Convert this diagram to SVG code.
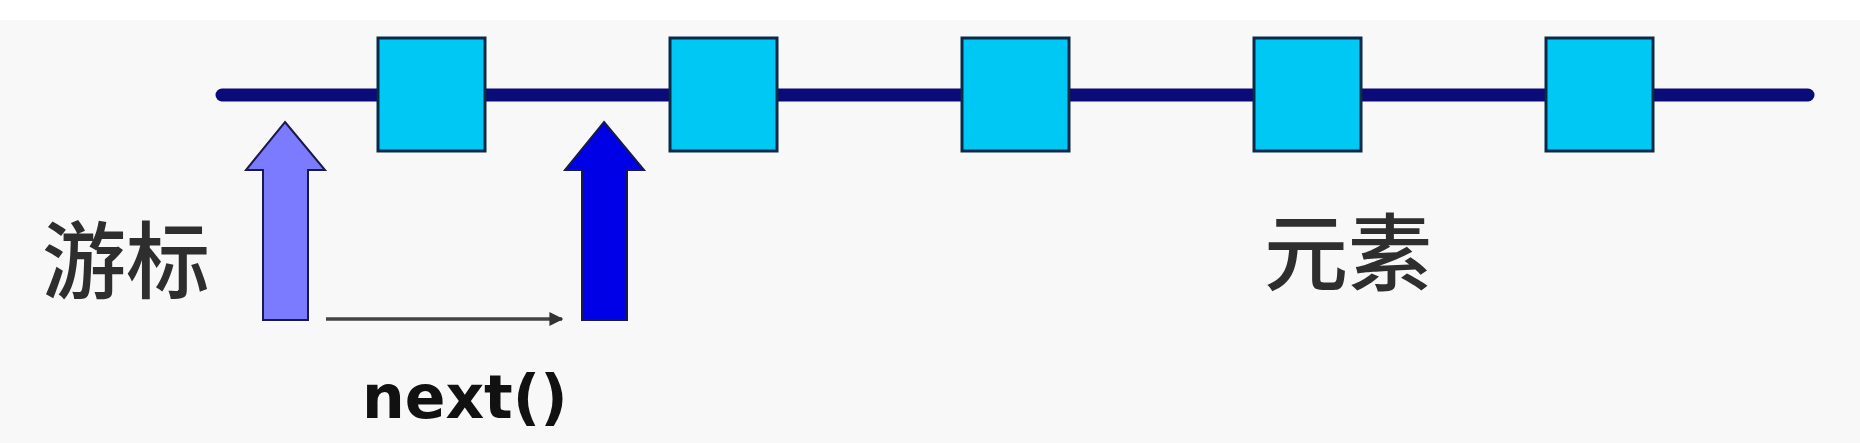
<svg xmlns="http://www.w3.org/2000/svg" width="1860" height="443" viewBox="0 0 1860 443">
  <defs>
    <style>
      .elem { fill: #00c8f5; stroke: #0a2a4a; stroke-width: 3; }
      .cjk { font-family: "Noto Sans CJK SC", "Noto Sans CJK JP", sans-serif; font-size: 84px; font-weight: 500; fill: #2e2e2e; }
      .code { font-family: "DejaVu Sans", "Liberation Sans", sans-serif; font-weight: bold; font-size: 60px; fill: #111111; }
      .ptr { stroke: #1a1a4a; stroke-width: 2; stroke-linejoin: miter; }
    </style>
    <marker id="ah" viewBox="0 0 10 10" refX="9" refY="5" markerWidth="4" markerHeight="4" orient="auto" markerUnits="strokeWidth">
      <path d="M0,0 L10,5 L0,10 z" fill="#333333"/>
    </marker>
  </defs>
  <rect x="0" y="0" width="1860" height="443" fill="#f8f8f8"/>
  <rect x="0" y="0" width="1860" height="20" fill="#ffffff"/>

  <g id="connectors">
    <line id="track" x1="222" y1="95" x2="1808" y2="95" stroke="#0a0a78" stroke-width="13" stroke-linecap="round"/>
    <line id="next-move" x1="326" y1="319" x2="562" y2="319" stroke="#444444" stroke-width="3.5" marker-end="url(#ah)"/>
  </g>

  <g id="element-1"><rect class="elem" x="378" y="38" width="107" height="113"/></g>
  <g id="element-2"><rect class="elem" x="670" y="38" width="107" height="113"/></g>
  <g id="element-3"><rect class="elem" x="962" y="38" width="107" height="113"/></g>
  <g id="element-4"><rect class="elem" x="1254" y="38" width="107" height="113"/></g>
  <g id="element-5"><rect class="elem" x="1546" y="38" width="107" height="113"/></g>

  <g id="cursor-old">
    <path class="ptr" fill="#7b7bff" d="M285,122 L325,170 L308,170 L308,320 L263,320 L263,170 L246,170 Z"/>
  </g>
  <g id="cursor-new">
    <path class="ptr" fill="#0000e6" d="M604,122 L644,170 L627,170 L627,320 L582,320 L582,170 L565,170 Z"/>
  </g>

  <g id="label-cursor"><text class="cjk" x="42" y="292">游标</text></g>
  <g id="label-elements"><text class="cjk" x="1264" y="284">元素</text></g>
  <g id="label-next"><text class="code" x="362" y="418">next()</text></g>
</svg>
